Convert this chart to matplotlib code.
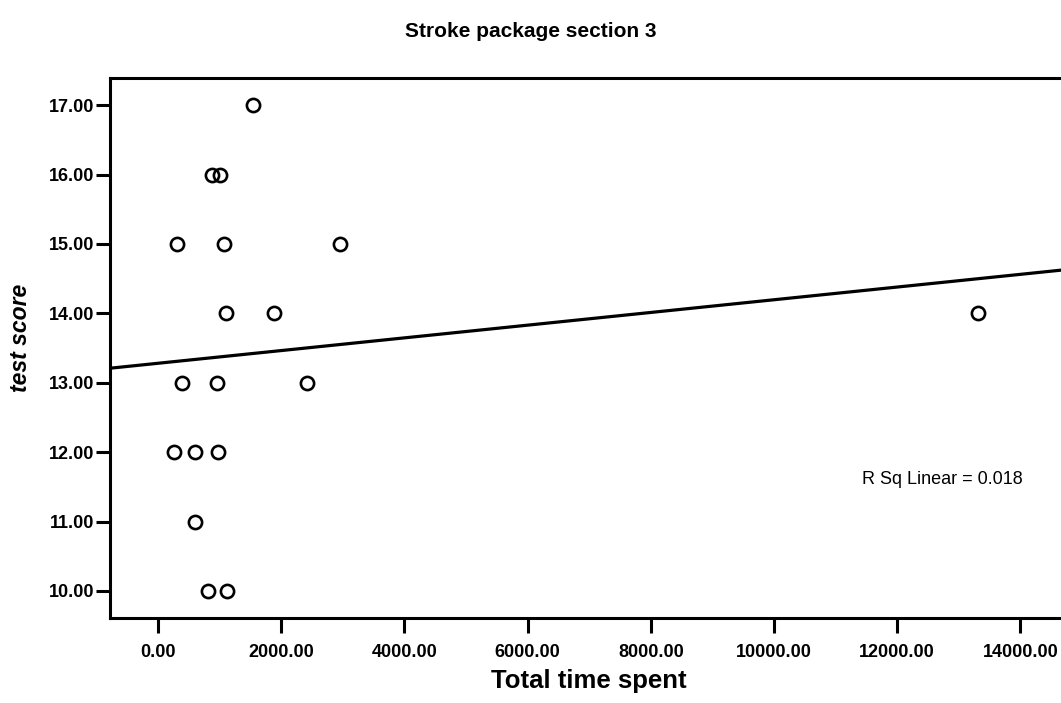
import numpy as np
import matplotlib.pyplot as plt

plt.rcParams['font.family'] = ['Liberation Sans', 'DejaVu Sans']

# total time spent vs test score
time_spent = [1542, 877, 1006, 308, 1071, 2955, 1104, 1883, 13312,
              390, 958, 2419, 260, 600, 974, 600, 812, 1120]
test_score = [17, 16, 16, 15, 15, 15, 14, 14, 14,
              13, 13, 13, 12, 12, 12, 11, 10, 10]
x_ticks = [0, 2000, 4000, 6000, 8000, 10000, 12000, 14000]
y_ticks = [10, 11, 12, 13, 14, 15, 16, 17]
r_sq_label = "R Sq Linear = 0.018"

fig = plt.figure(figsize=(10.61, 7.03), dpi=100)
ax = fig.add_axes([0.1037, 0.1209, 0.8963, 0.768])

xlim = (-780, 14660)
slope, intercept = np.polyfit(time_spent, test_score, 1)
xs = np.array(xlim)
ax.plot(xs, intercept + slope * xs, color='black', lw=2.3, zorder=2)

ax.plot(time_spent, test_score, 'o', ms=9.5, mfc='none', mec='black',
        mew=1.9, zorder=3)

ax.text(11430, 11.6, r_sq_label, fontsize=13, va='center', ha='left')

ax.set_xlim(*xlim)
ax.set_ylim(9.61, 17.39)
ax.set_xticks(x_ticks)
ax.set_xticklabels([f"{v:.2f}" for v in x_ticks])
ax.set_yticks(y_ticks)
ax.set_yticklabels([f"{v:.2f}" for v in y_ticks])
ax.tick_params(axis='x', direction='out', length=11, width=2.2,
               labelsize=13, pad=8)
ax.tick_params(axis='y', direction='out', length=10, width=2.2,
               labelsize=13, pad=1)
for lab in ax.get_xticklabels() + ax.get_yticklabels():
    lab.set_fontweight('bold')

for side in ['left', 'bottom', 'top']:
    ax.spines[side].set_linewidth(2.2)
ax.spines['right'].set_visible(False)

ax.set_xlabel("Total time spent", fontsize=18.5, fontweight='bold', va='center')
ax.xaxis.set_label_coords(0.503, -0.117)
ax.set_ylabel("test score", fontsize=16.5, fontweight='bold', style='italic',
              va='center')
ax.yaxis.set_label_coords(-0.0946, 0.519)
fig.text(0.5, 0.955, "Stroke package section 3", fontsize=15,
         fontweight='bold', ha='center', va='center')

fig.savefig("out.png", dpi=100)
